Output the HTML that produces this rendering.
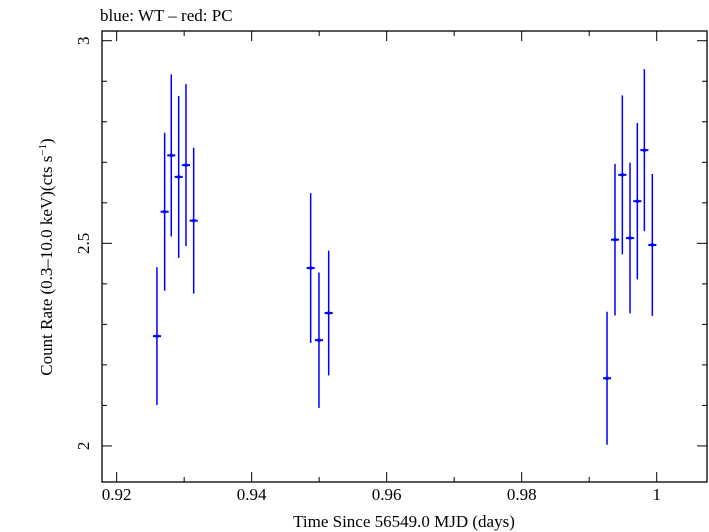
<!DOCTYPE html>
<html><head><meta charset="utf-8">
<style>
html,body{margin:0;padding:0;background:#fff;}
svg{display:block;font-family:"Liberation Serif",serif;}
</style></head>
<body>
<svg id="chart" width="709" height="532" viewBox="0 0 709 532" xmlns="http://www.w3.org/2000/svg">
<text x="100" y="21" font-size="17">blue: WT – red: PC</text>
<rect x="102" y="31" width="605" height="451" fill="none" stroke="#000" stroke-width="1.3"/>
<g id="axes"></g>
<g id="marks"></g>
<text x="404" y="527" font-size="17" text-anchor="middle">Time Since 56549.0 MJD (days)</text>
<text transform="translate(52,257) rotate(-90)" font-size="17" text-anchor="middle">Count Rate (0.3–10.0 keV)(cts s<tspan baseline-shift="super" font-size="11">−1</tspan>)</text>
</svg>
<script>
const times = [0.92597,0.92711,0.92809,0.92919,0.93027,0.93141,0.94874,0.94997,0.95141,0.99264,0.99382,0.99491,0.99605,0.99713,0.99817,0.99935];
const rates = [2.271,2.578,2.717,2.664,2.693,2.556,2.439,2.261,2.328,2.167,2.509,2.669,2.513,2.604,2.730,2.496];
const rateErrs = [0.17,0.195,0.2,0.2,0.2,0.18,0.185,0.167,0.154,0.164,0.187,0.196,0.186,0.193,0.2,0.175];
const timeErr = 0.0006;
const xTickLabels = ["0.92","0.94","0.96","0.98","1"];
const xTickValues = [0.92,0.94,0.96,0.98,1.0];
const yTickLabels = ["2","2.5","3"];
const yTickValues = [2,2.5,3];

const X0=102,X1=707,Y0=482,Y1=31;
const xMin=0.91783,xMax=1.00745,yMin=1.911,yMax=3.024;
function xs(v){return X0+(v-xMin)/(xMax-xMin)*(X1-X0);}
function ys(v){return Y0-(v-yMin)/(yMax-yMin)*(Y0-Y1);}
const NS="http://www.w3.org/2000/svg";
const axes=document.getElementById('axes');
const marks=document.getElementById('marks');
function ln(p,x1,y1,x2,y2,c,w){const l=document.createElementNS(NS,'line');l.setAttribute('x1',x1);l.setAttribute('y1',y1);l.setAttribute('x2',x2);l.setAttribute('y2',y2);l.setAttribute('stroke',c);l.setAttribute('stroke-width',w);p.appendChild(l);return l;}
// x ticks: minor every 0.01
for(let i=0;i<=8;i++){
  const v=0.92+i*0.01, x=xs(v), len=(i%2===0)?10:5;
  const t1=ln(axes,x,Y0,x,Y0-len,'#000',1);
  
  
  const t2=ln(axes,x,Y1,x,Y1+len,'#000',1);
  
  
}
xTickLabels.forEach((s,i)=>{
  const t=document.createElementNS(NS,'text');
  t.setAttribute('x',xs(xTickValues[i]));t.setAttribute('y',500);
  t.setAttribute('font-size','17');t.setAttribute('text-anchor','middle');
  t.textContent=s;
  
  
  axes.appendChild(t);
});
// y ticks: minor every 0.1
for(let i=0;i<=11;i++){
  const v=1.95+i*0.1; const vv=Math.round(v*10)/10;
  if(vv<yMin||vv>yMax) continue;
  const y=ys(vv), major=Math.abs(vv*2-Math.round(vv*2))<1e-6, len=major?10:5;
  const t1=ln(axes,X0,y,X0+len,y,'#000',1);
  
  
  const t2=ln(axes,X1,y,X1-len,y,'#000',1);
  
  
}
yTickLabels.forEach((s,i)=>{
  const t=document.createElementNS(NS,'text');
  const y=ys(yTickValues[i]);
  t.setAttribute('transform','translate(89,'+y+') rotate(-90)');
  t.setAttribute('font-size','17');t.setAttribute('text-anchor','middle');
  t.textContent=s;
  
  
  axes.appendChild(t);
});
// data
times.forEach((tv,i)=>{
  const g=document.createElementNS(NS,'g');
  
  
  const x=xs(tv), y=ys(rates[i]);
  ln(g,x,ys(rates[i]+rateErrs[i]),x,ys(rates[i]-rateErrs[i]),'#0000ff',1.5);
  ln(g,xs(tv-timeErr),y,xs(tv+timeErr),y,'#0000ff',2);
  const r=document.createElementNS(NS,'rect');
  r.setAttribute('x',x-1.5);r.setAttribute('y',y-1.5);r.setAttribute('width',3);r.setAttribute('height',3);r.setAttribute('fill','#0000ff');
  g.appendChild(r);
  marks.appendChild(g);
});
</script>
</body></html>
